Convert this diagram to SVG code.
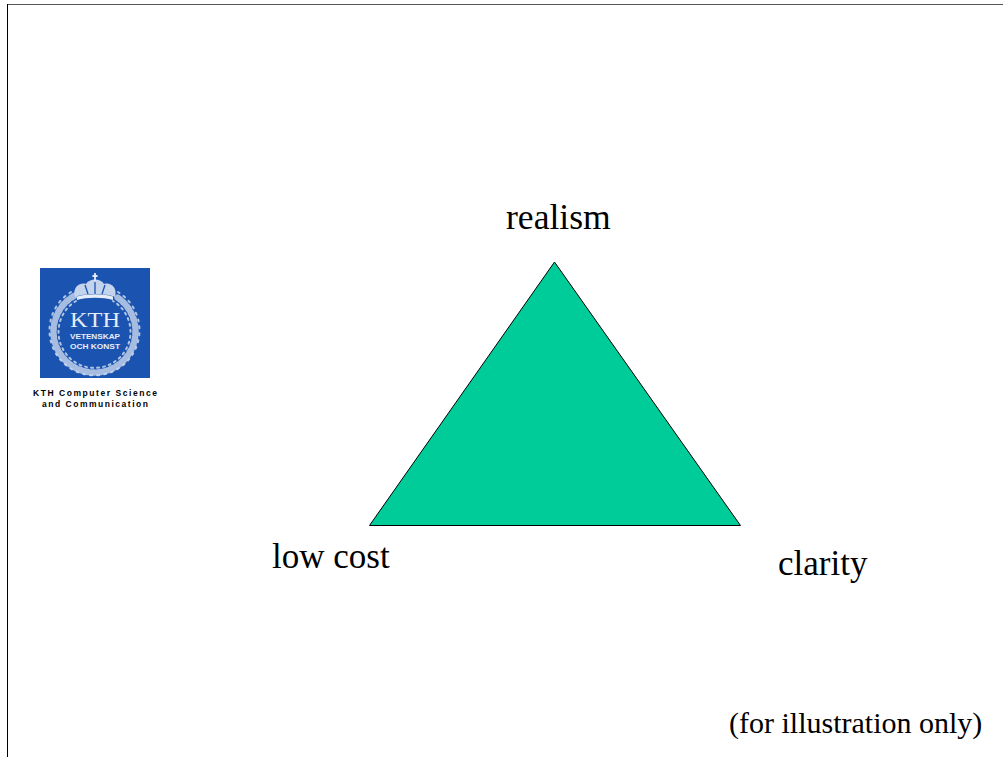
<svg xmlns="http://www.w3.org/2000/svg" width="1003" height="757" viewBox="0 0 1003 757">
<style>
.t{font-family:"Liberation Serif","Times New Roman",serif;fill:#000}
.l{font-size:35px}
.w{fill:#e6edf8}
.s{font-family:"Liberation Sans",Arial,sans-serif;font-weight:bold;text-anchor:middle}
.r{fill:none;stroke:#d5e0f2;stroke-linecap:round}
</style>
<rect width="1003" height="757" fill="#fff"/>
<g id="frame" fill="none">
<path d="M7 4.500H1003" stroke="#555" stroke-width="1"/>
<path d="M7.500 4V757" stroke="#000" stroke-width="1"/>
</g>
<g id="logo">
<rect x="40" y="268" width="110" height="110" fill="#1a54b0"/>
<g id="wreath">
<path class="r" d="M74 296A41 41 0 1 0 115 296" stroke-width="6.500" stroke-dasharray="3 3.500" opacity=".75"/>
<path class="r" d="M71 292A45 45 0 1 0 118 292" stroke-width="2" stroke-dasharray="2 5" opacity=".8"/>
<path class="r" d="M76 301A36 36 0 1 0 113 301" stroke-width="2" stroke-dasharray="2 4" opacity=".8"/>
</g>
<g id="crown">
<path d="M75 297C72 287 80 282 86 284C89 278 101 278 104 284C110 282 118 287 115 297C107 293 83 293 75 297Z" fill="#c4d4ec"/>
<path d="M85 285L88 294M95 282V294M105 285L102 294" stroke="#1a54b0" stroke-width="1.300"/>
<path d="M77 296.500C87 293.500 103 293.500 113 296.500V300C103 297 87 297 77 300Z" fill="#e6edf8"/>
<path d="M95 273V281M92.500 276H97.500" stroke="#e6edf8" stroke-width="1.800"/>
</g>
<text class="t w" x="95" y="327" font-size="21" text-anchor="middle" textLength="50" lengthAdjust="spacingAndGlyphs">KTH</text>
<text class="s w" x="95" y="338.500" font-size="6.500" textLength="50" lengthAdjust="spacingAndGlyphs">VETENSKAP</text>
<text class="s w" x="95" y="349" font-size="6.500" textLength="50" lengthAdjust="spacingAndGlyphs">OCH KONST</text>
<text class="s" x="95" y="396" font-size="8.500" textLength="124" lengthAdjust="spacing">KTH Computer Science</text>
<text class="s" x="95" y="407" font-size="8.500" textLength="106" lengthAdjust="spacing">and Communication</text>
</g>
<g id="triangle">
<polygon points="554.500,262 369.500,525.500 740.500,525.500" fill="#00cc99" stroke="#000" stroke-width="1"/>
</g>
<g id="labels">
<text class="t" x="506" y="229" font-size="35.600">realism</text>
<text class="t l" x="272" y="568">low cost</text>
<text class="t l" x="778" y="575">clarity</text>
<text class="t" x="729" y="733" font-size="30">(for illustration only)</text>
</g>
</svg>
